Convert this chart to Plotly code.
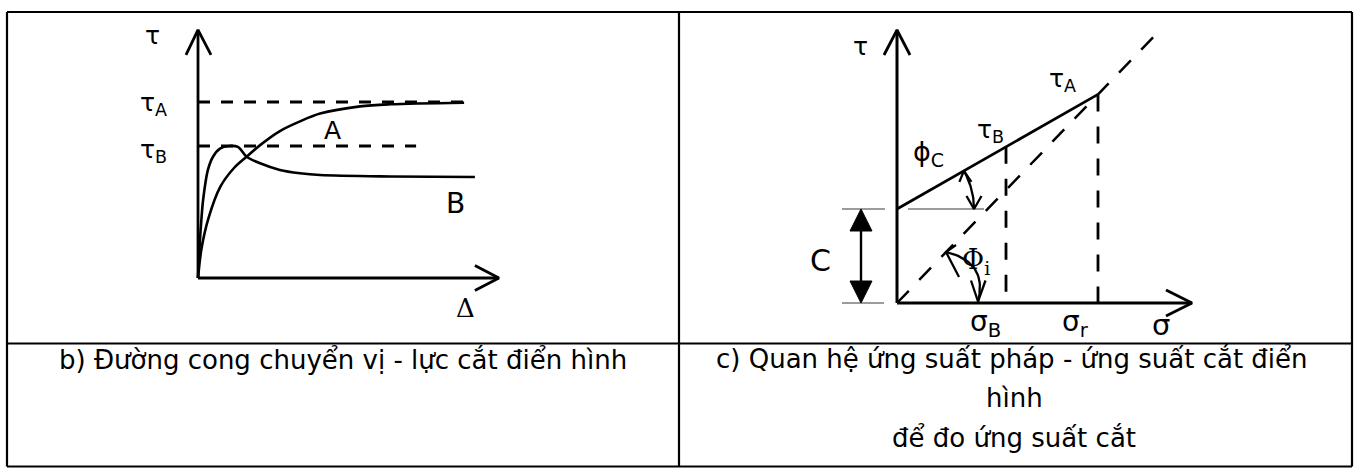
import math
import plotly.graph_objects as go

W, H = 1357, 468

# ---------------- panel b: shear displacement vs shear stress ----------------
# displacement Δ (arbitrary units) and shear stress τ normalised by τA
disp_a = [0.0, 0.12, 0.35, 0.75, 1.20, 1.62, 2.07, 2.73, 3.40, 4.07, 5.40, 6.41, 8.87]
tau_a = [0.0, 0.17, 0.34, 0.52, 0.625, 0.689, 0.755, 0.835, 0.890, 0.934, 0.975, 0.987, 0.996]

disp_b = [0.0, 0.06, 0.12, 0.17, 0.33, 0.50, 0.73, 1.03, 1.33, 1.62, 2.07, 2.73, 3.40, 4.07, 6.40, 9.23]
tau_b = [0.0, 0.20, 0.348, 0.443, 0.614, 0.689, 0.735, 0.750, 0.745, 0.689, 0.652, 0.614, 0.595, 0.585, 0.577, 0.574]

tau_peak_a = 1.0
tau_peak_b = 0.75
dash_end_a = 8.87
dash_end_b = 7.27
disp_axis_end = 10.03
tau_axis_end_b = 1.41

# ---------------- panel c: normal stress vs shear stress ----------------
cohesion = 1.88          # C
tan_phi_c = 0.57         # slope of the envelope
sigma_B = 2.18
sigma_r = 4.02
sigma_dash_end = 5.16
sigma_axis_end = 5.90
tau_axis_end_c = 5.46

tau_B_env = cohesion + tan_phi_c * sigma_B
tau_A_env = cohesion + tan_phi_c * sigma_r
tan_phi_i = tau_A_env / sigma_r

# pixel scale of each panel (px per unit) and origin in page pixels
KX_B, KY_B, OX_B, OY_B = 30.0, 176.0, 198.0, 278.0
KX_C, KY_C, OX_C, OY_C = 50.0, 50.0, 897.0, 303.0

BLACK = "#000000"
fig = go.Figure()


def line(xs, ys, panel, width=2.6, dash="solid", color=BLACK):
    xa, ya = ("x", "y") if panel == "b" else ("x2", "y2")
    fig.add_trace(go.Scatter(x=xs, y=ys, mode="lines", xaxis=xa, yaxis=ya,
                             line=dict(color=color, width=width, dash=dash),
                             hoverinfo="skip", showlegend=False))


def head(x0, y0, wings, panel, width=2.6):
    # open arrow head: wings are pixel offsets (right, up) of the barb ends
    kx, ky = (KX_B, KY_B) if panel == "b" else (KX_C, KY_C)
    (ax, ay), (bx, by) = wings
    line([x0 + ax / kx, x0, x0 + bx / kx], [y0 + ay / ky, y0, y0 + by / ky], panel, width)


# ---- panel b drawing ----
line([0, 0], [0, tau_axis_end_b], "b", 2.8)
head(0, tau_axis_end_b, [(-12, -25), (13, -25)], "b", 2.8)
line([0, disp_axis_end], [0, 0], "b", 2.8)
head(disp_axis_end, 0, [(-24, 12.5), (-24, -12.5)], "b", 2.8)

line([0, dash_end_a], [tau_peak_a, tau_peak_a], "b", 2.8, "12px,11px")
line([0, dash_end_b], [tau_peak_b, tau_peak_b], "b", 2.8, "12px,11px")

for xs, ys in [(disp_a, tau_a), (disp_b, tau_b)]:
    fig.add_trace(go.Scatter(x=xs, y=ys, mode="lines", xaxis="x", yaxis="y",
                             line=dict(color=BLACK, width=2.6, shape="spline", smoothing=0.9),
                             hoverinfo="skip", showlegend=False))

# ---- panel c drawing ----
line([0, 0], [0, tau_axis_end_c], "c", 3.0)
head(0, tau_axis_end_c, [(-13, -25), (13, -25)], "c", 2.8)
line([0, sigma_axis_end], [0, 0], "c", 3.0)
head(sigma_axis_end, 0, [(-26, 13), (-26, -13)], "c", 2.8)

# failure envelope
line([0, sigma_r], [cohesion, tau_A_env], "c", 2.7)
# line through the origin
line([0, sigma_dash_end], [0, sigma_dash_end * tan_phi_i], "c", 2.5, "17px,15px")
# stress markers
line([sigma_B, sigma_B], [tau_B_env, 0], "c", 2.8, "17px,15px")
line([sigma_r, sigma_r], [tau_A_env, 0], "c", 2.8, "17px,15px")

# thin reference lines for C
THIN = "#3a3a3a"
line([-1.10, -0.24], [cohesion, cohesion], "c", 1.2, color=THIN)
line([-1.10, -0.26], [0, 0], "c", 1.2, color=THIN)
line([0.22, 1.74], [cohesion, cohesion], "c", 1.2, color=THIN)

# C dimension arrow with filled heads
c_x = -0.72
line([c_x, c_x], [0.3, cohesion - 0.3], "c", 2.4)
for tip, base in [(cohesion, cohesion - 0.44), (0.0, 0.44)]:
    fig.add_trace(go.Scatter(x=[c_x - 0.22, c_x, c_x + 0.22, c_x - 0.22],
                             y=[base, tip, base, base], mode="lines", fill="toself",
                             fillcolor=BLACK, line=dict(color=BLACK, width=1),
                             xaxis="x2", yaxis="y2", hoverinfo="skip", showlegend=False))

# angle arc between the envelope and the horizontal (φc)
r_c = 1.54
a_end = math.atan(tan_phi_c)
n = 30
arc_x = [r_c * math.cos(a_end * i / n) for i in range(n + 1)]
arc_y = [cohesion + r_c * math.sin(a_end * i / n) for i in range(n + 1)]
line(arc_x, arc_y, "c", 2.3)
head(arc_x[-1], arc_y[-1], [(-4.5, -11), (7.5, -11)], "c", 2.3)
head(arc_x[0], arc_y[0], [(-7.5, 13), (7.5, 13)], "c", 2.3)

# angle arc between the origin line and the σ axis (Φi)
p0 = (0.98, 1.02)
pc = (1.82, 0.82)
p2 = (1.62, 0.03)
bz_x, bz_y = [], []
for i in range(n + 1):
    t = i / n
    bz_x.append((1 - t) ** 2 * p0[0] + 2 * t * (1 - t) * pc[0] + t ** 2 * p2[0])
    bz_y.append((1 - t) ** 2 * p0[1] + 2 * t * (1 - t) * pc[1] + t ** 2 * p2[1])
line(bz_x, bz_y, "c", 2.3)
head(p0[0], p0[1], [(10, 7), (13, -25)], "c", 2.3)
head(p2[0], p2[1], [(-7, 21), (7.5, 21)], "c", 2.3)

# ---------------- table frame ----------------
def px(x):
    return x / W


def py(y):
    return 1 - y / H


frame = dict(type="line", xref="paper", yref="paper", line=dict(color=BLACK, width=2.2))
L, R, T, B, MID, ROW = 7, 1352, 12, 466.5, 679, 343.5
shapes = [
    dict(frame, x0=px(L), x1=px(R), y0=py(T), y1=py(T)),
    dict(frame, x0=px(L), x1=px(R), y0=py(B), y1=py(B)),
    dict(frame, x0=px(L), x1=px(L), y0=py(T), y1=py(B)),
    dict(frame, x0=px(R), x1=px(R), y0=py(T), y1=py(B)),
    dict(frame, x0=px(MID), x1=px(MID), y0=py(T), y1=py(B)),
    dict(frame, x0=px(L), x1=px(R), y0=py(ROW), y1=py(ROW)),
]

SANS = "DejaVu Sans"
SERIF = "DejaVu Serif"


def label(text, x, y, panel, size, family=SANS):
    xa, ya = ("x", "y") if panel == "b" else ("x2", "y2")
    return dict(text=text, x=x, y=y, xref=xa, yref=ya, showarrow=False,
                xanchor="center", yanchor="middle",
                font=dict(family=family, size=size, color=BLACK))


def caption(text, cx, cy, size=26):
    return dict(text=text, x=px(cx), y=py(cy), xref="paper", yref="paper",
                showarrow=False, xanchor="center", yanchor="middle",
                font=dict(family=SANS, size=size, color=BLACK))


annotations = [
    # panel b
    label("τ", -1.53, 1.38, "b", 25),
    label("τ<sub>A</sub>", -1.47, 0.99, "b", 25),
    label("τ<sub>B</sub>", -1.47, 0.72, "b", 25),
    label("A", 4.47, 0.84, "b", 25),
    label("B", 8.57, 0.426, "b", 28),
    label("Δ", 8.93, -0.17, "b", 26, SERIF),
    # panel c
    label("τ", -0.74, 5.14, "c", 25),
    label("τ<sub>A</sub>", 3.30, 4.46, "c", 25),
    label("τ<sub>B</sub>", 1.86, 3.44, "c", 25),
    label("ϕ<sub>C</sub>", 0.63, 3.00, "c", 27),
    label("C", -1.54, 0.86, "c", 30),
    label("Φ<sub>i</sub>", 1.58, 0.84, "c", 27, SERIF),
    label("σ<sub>B</sub>", 1.76, -0.40, "c", 28),
    label("σ<sub>r</sub>", 3.56, -0.40, "c", 28),
    label("σ", 5.28, -0.44, "c", 29),
    # captions
    caption("b) Đường cong chuyển vị - lực cắt điển hình", 343, 360),
    caption("c) Quan hệ ứng suất pháp - ứng suất cắt điển", 1012, 359),
    caption("hình", 1014, 398),
    caption("để đo ứng suất cắt", 1014, 438),
]

hidden = dict(visible=False, fixedrange=True, showgrid=False, zeroline=False)
fig.update_layout(
    width=W, height=H,
    margin=dict(l=0, r=0, t=0, b=0),
    paper_bgcolor="white", plot_bgcolor="white",
    showlegend=False,
    font=dict(family=SANS, size=25, color=BLACK),
    xaxis=dict(hidden, domain=[0, 1], range=[-OX_B / KX_B, (W - OX_B) / KX_B]),
    yaxis=dict(hidden, domain=[0, 1], range=[-(H - OY_B) / KY_B, OY_B / KY_B]),
    xaxis2=dict(hidden, overlaying="x", anchor="y2",
                range=[-OX_C / KX_C, (W - OX_C) / KX_C]),
    yaxis2=dict(hidden, overlaying="y", anchor="x2",
                range=[-(H - OY_C) / KY_C, OY_C / KY_C]),
    shapes=shapes,
    annotations=annotations,
)

fig.write_html("out.html", config={"displayModeBar": False})
